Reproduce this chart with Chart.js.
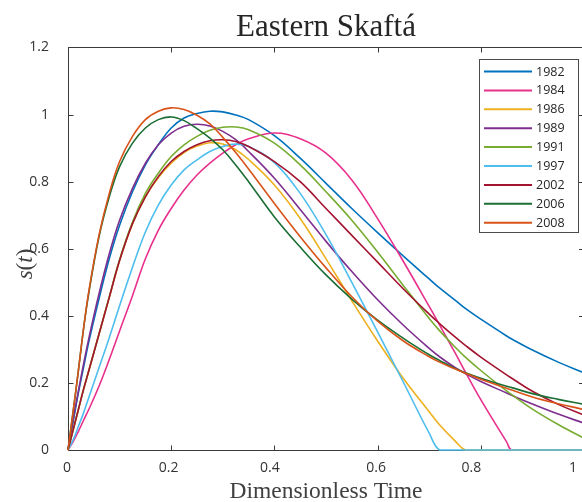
<!DOCTYPE html>
<html>
<head>
<meta charset="utf-8">
<title>Eastern Skaftá</title>
<script src="https://cdn.jsdelivr.net/npm/chart.js@4.4.1/dist/chart.umd.min.js"></script>
<style>
  html, body { margin: 0; padding: 0; background: #fff; overflow: hidden; }
  #box { position: relative; width: 590px; height: 502px; }
</style>
</head>
<body>
<div id="box"><canvas id="hydrograph" width="590" height="502"></canvas></div>
<script>
// dimensionless time, shared by every flood
const time = [0, 0.01, 0.02, 0.03, 0.04, 0.06, 0.08, 0.1, 0.125, 0.15, 0.175, 0.2, 0.225, 0.25, 0.275, 0.3,
  0.325, 0.35, 0.4, 0.45, 0.5, 0.55, 0.6, 0.65, 0.7, 0.72, 0.75, 0.77, 0.8, 0.85, 0.86, 0.9, 0.95, 1];

const years = ["1982", "1984", "1986", "1989", "1991", "1997", "2002", "2006", "2008"];

// s(t), one value per time step
const s1982 = [0, 0.085, 0.17, 0.245, 0.32, 0.45, 0.57, 0.67, 0.77, 0.85, 0.91, 0.96, 0.99, 1.003, 1.01, 1.008,
  0.999, 0.985, 0.937, 0.87, 0.795, 0.72, 0.648, 0.578, 0.51, 0.483, 0.447, 0.422, 0.39, 0.34, 0.331, 0.298, 0.262, 0.23];
const s1984 = [0, 0.025, 0.055, 0.088, 0.12, 0.19, 0.27, 0.355, 0.46, 0.57, 0.655, 0.72, 0.775, 0.82, 0.855, 0.885,
  0.91, 0.928, 0.945, 0.928, 0.885, 0.805, 0.69, 0.562, 0.428, 0.373, 0.29, 0.233, 0.15, 0.024, 0, 0, 0, 0];
const s1986 = [0, 0.06, 0.12, 0.18, 0.235, 0.345, 0.455, 0.565, 0.675, 0.755, 0.812, 0.855, 0.887, 0.906, 0.916, 0.912,
  0.895, 0.866, 0.79, 0.69, 0.57, 0.445, 0.325, 0.213, 0.114, 0.075, 0.027, 0, 0, 0, 0, 0, 0, 0];
const s1989 = [0, 0.09, 0.175, 0.255, 0.33, 0.465, 0.585, 0.685, 0.78, 0.855, 0.91, 0.945, 0.965, 0.971, 0.966, 0.95,
  0.925, 0.89, 0.81, 0.717, 0.622, 0.532, 0.448, 0.372, 0.303, 0.278, 0.246, 0.228, 0.204, 0.17, 0.163, 0.137, 0.107, 0.08];
const s1991 = [0, 0.06, 0.12, 0.18, 0.235, 0.345, 0.457, 0.568, 0.68, 0.765, 0.825, 0.875, 0.91, 0.935, 0.953, 0.962,
  0.963, 0.955, 0.915, 0.85, 0.77, 0.685, 0.59, 0.49, 0.392, 0.356, 0.307, 0.277, 0.237, 0.176, 0.165, 0.122, 0.076, 0.035];
const s1997 = [0, 0.03, 0.07, 0.11, 0.155, 0.245, 0.335, 0.43, 0.545, 0.65, 0.73, 0.79, 0.835, 0.865, 0.89, 0.905,
  0.912, 0.905, 0.857, 0.765, 0.642, 0.5, 0.352, 0.202, 0.05, 0, 0, 0, 0, 0, 0, 0, 0, 0];
const s2002 = [0, 0.06, 0.12, 0.18, 0.235, 0.345, 0.455, 0.565, 0.675, 0.755, 0.815, 0.86, 0.89, 0.91, 0.922, 0.925,
  0.92, 0.905, 0.86, 0.8, 0.72, 0.64, 0.56, 0.48, 0.405, 0.377, 0.337, 0.312, 0.277, 0.224, 0.214, 0.175, 0.136, 0.104];
const s2006 = [0, 0.115, 0.235, 0.36, 0.465, 0.635, 0.755, 0.845, 0.915, 0.96, 0.985, 0.993, 0.982, 0.958, 0.93, 0.895,
  0.85, 0.8, 0.695, 0.605, 0.522, 0.45, 0.387, 0.333, 0.284, 0.267, 0.243, 0.23, 0.214, 0.19, 0.186, 0.168, 0.151, 0.136];
const s2008 = [0, 0.115, 0.235, 0.36, 0.47, 0.64, 0.765, 0.86, 0.935, 0.985, 1.01, 1.02, 1.015, 0.998, 0.972, 0.932,
  0.887, 0.838, 0.735, 0.636, 0.543, 0.457, 0.384, 0.325, 0.278, 0.262, 0.242, 0.229, 0.211, 0.184, 0.179, 0.158, 0.138, 0.121];

const colors = ["#0072bd", "#e8318c", "#edb120", "#7e2f8e", "#77ac30", "#4dbeee", "#a2142f", "#1b6e34", "#d95319"];
const xTicks = [0, 0.2, 0.4, 0.6, 0.8, 1];
const yTicks = [0, 0.2, 0.4, 0.6, 0.8, 1, 1.2];

const series = [s1982, s1984, s1986, s1989, s1991, s1997, s2002, s2006, s2008];
const axisColor = "#3a3a3a";
const textColor = "#333333";
const tickFont = { family: "'Open Sans'", size: 14 };

const fmt = (v) => Number(v.toFixed(1)).toString();

// box with inward ticks (drawn under the lines)
const boxPlugin = {
  id: "box",
  beforeDatasetsDraw(chart) {
    const { ctx, chartArea: a, scales } = chart;
    const L = Math.round(a.left) + 0.5, R = a.right, T = a.top, B = Math.round(a.bottom) + 0.5;
    ctx.save();
    ctx.strokeStyle = axisColor;
    ctx.lineWidth = 1;
    ctx.strokeRect(L, T, R - L, B - T);
    ctx.beginPath();
    xTicks.slice(1, -1).forEach((v) => {
      const px = Math.round(scales.x.getPixelForValue(v)) + 0.5;
      ctx.moveTo(px, B); ctx.lineTo(px, B - 5);
      ctx.moveTo(px, T); ctx.lineTo(px, T + 5);
    });
    yTicks.slice(1, -1).forEach((v) => {
      const py = Math.round(scales.y.getPixelForValue(v)) + 0.5;
      ctx.moveTo(L, py); ctx.lineTo(L + 5, py);
      ctx.moveTo(R, py); ctx.lineTo(R - 5, py);
    });
    ctx.stroke();

    // x tick labels sit a little left of their ticks in the original
    const nudge = [-1, -2.5, -4.5, -1.5, -9.5, -11];
    ctx.fillStyle = textColor;
    ctx.font = "14px 'Open Sans'";
    ctx.textAlign = "center";
    ctx.textBaseline = "middle";
    xTicks.forEach((v, i) => {
      ctx.fillText(fmt(v), scales.x.getPixelForValue(v) + nudge[i], 468);
    });
    ctx.restore();
  },
  afterDraw(chart) {
    const { ctx, chartArea: a } = chart;
    const cx = (a.left + a.right) / 2;
    ctx.save();
    ctx.fillStyle = "#262626";
    ctx.textAlign = "center";
    ctx.textBaseline = "alphabetic";
    ctx.font = '31px "Liberation Serif"';
    ctx.fillText("Eastern Skaftá", cx, 36);
    ctx.fillStyle = "#404040";
    ctx.font = '23.5px "Liberation Serif"';
    ctx.fillText("Dimensionless Time", cx, 498);

    // y label s(t), italic letters with upright brackets
    const parts = [["s", "italic "], ["(", ""], ["t", "italic "], [")", ""]];
    let w = 0;
    parts.forEach((p) => { ctx.font = p[1] + '23px "Liberation Serif"'; w += ctx.measureText(p[0]).width; });
    ctx.translate(32, 264);
    ctx.rotate(-Math.PI / 2);
    ctx.textAlign = "left";
    let x = -w / 2;
    parts.forEach((p) => {
      ctx.font = p[1] + '23px "Liberation Serif"';
      ctx.fillText(p[0], x, 0);
      x += ctx.measureText(p[0]).width;
    });
    ctx.restore();

    // legend box
    ctx.save();
    ctx.fillStyle = "#ffffff";
    ctx.fillRect(479.5, 59.5, 99, 173);
    ctx.strokeStyle = "#4a4a4a";
    ctx.lineWidth = 1;
    ctx.strokeRect(479.5, 59.5, 99, 173);
    ctx.font = "12.5px 'Open Sans'";
    ctx.textBaseline = "middle";
    ctx.textAlign = "left";
    chart.data.datasets.forEach((ds, i) => {
      const y = 71.5 + i * 18.9;
      ctx.strokeStyle = ds.borderColor;
      ctx.lineWidth = 2;
      ctx.beginPath();
      ctx.moveTo(484, y); ctx.lineTo(532, y);
      ctx.stroke();
      ctx.fillStyle = "#262626";
      ctx.fillText(ds.label, 536, y + 0.5);
    });
    ctx.restore();
  }
};

new Chart(document.getElementById("hydrograph"), {
  type: "line",
  data: {
    datasets: series.map((vals, i) => ({
      label: years[i],
      data: time.map((t, k) => ({ x: t, y: vals[k] })),
      borderColor: colors[i],
      borderWidth: 1.6,
      pointRadius: 0,
      fill: false,
      tension: 0.4,
      clip: 3,
      order: -i
    }))
  },
  options: {
    responsive: false,
    animation: false,
    events: [],
    layout: { padding: { top: 47.5, right: 6, bottom: 0, left: 0 } },
    plugins: { legend: { display: false }, tooltip: { enabled: false } },
    scales: {
      x: {
        type: "linear", min: 0, max: 1,
        afterFit: (s) => { s.height = 52; s.paddingLeft = 0; s.paddingRight = 0; },
        afterBuildTicks: (s) => { s.ticks = xTicks.map((v) => ({ value: v })); },
        grid: { display: false }, border: { display: false },
        ticks: { display: false }
      },
      y: {
        type: "linear", min: 0, max: 1.2,
        afterFit: (s) => { s.width = 68; s.paddingTop = 0; s.paddingBottom = 0; },
        afterBuildTicks: (s) => { s.ticks = yTicks.map((v) => ({ value: v })); },
        grid: { display: false }, border: { display: false },
        ticks: { padding: 11, color: textColor, font: tickFont, autoSkip: false, callback: fmt }
      }
    }
  },
  plugins: [boxPlugin]
});
</script>
</body>
</html>
